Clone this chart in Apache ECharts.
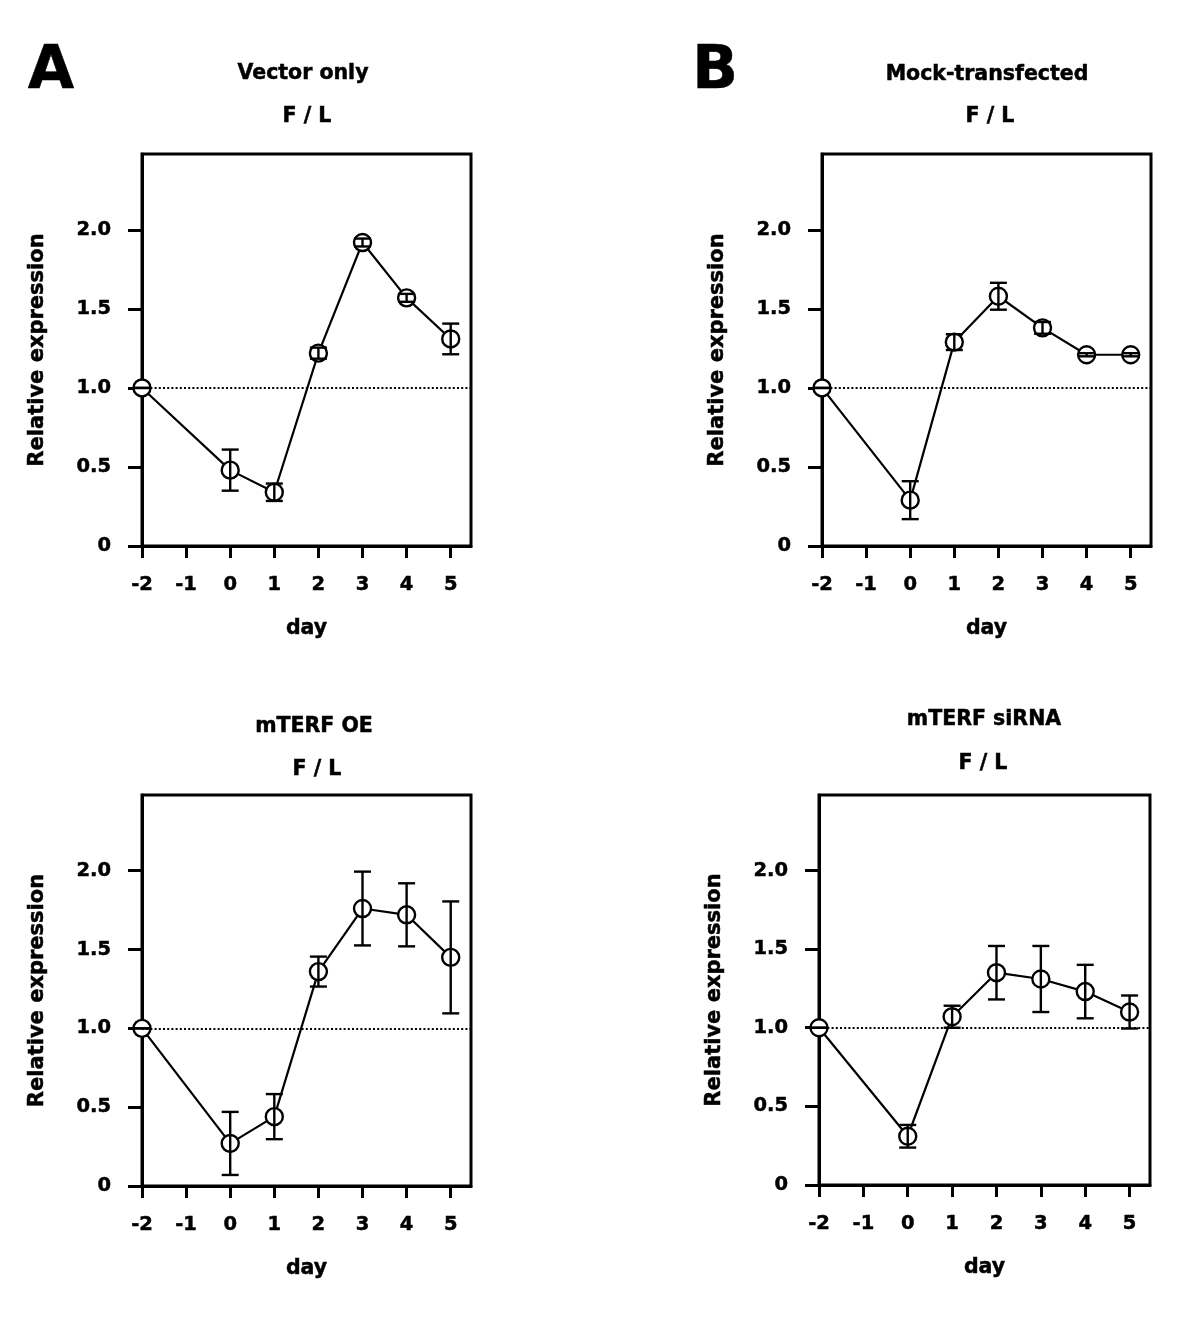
<!DOCTYPE html>
<html>
<head>
<meta charset="utf-8">
<script src="https://cdn.jsdelivr.net/npm/echarts@6/dist/echarts.min.js"></script>
<style>html,body{margin:0;padding:0;background:#fff;}#c{width:1200px;height:1318px;}</style>
</head>
<body>
<div id="c"></div>
<script>
// ---- data ----
const days = [-2, 0, 1, 2, 3, 4, 5];
const xTicks = [-2, -1, 0, 1, 2, 3, 4, 5];
const yTicks = [0, 0.5, 1.0, 1.5, 2.0];
const panelTitles = ['Vector only', 'Mock-transfected', 'mTERF OE', 'mTERF siRNA'];
const subTitle = 'F / L';
const panelLetters = ['A', 'B'];
const xName = 'day';
const yName = 'Relative expression';
const refLevel = 1.0;

const vectorMean = [1.0, 0.48, 0.34, 1.22, 1.92, 1.57, 1.31];
const vectorErr  = [0, 0.13, 0.055, 0.035, 0.025, 0.025, 0.097];
const mockMean   = [1.0, 0.29, 1.29, 1.58, 1.38, 1.21, 1.21];
const mockErr    = [0, 0.12, 0.05, 0.085, 0.037, 0.01, 0.01];
const oeMean     = [1.0, 0.27, 0.44, 1.36, 1.76, 1.72, 1.45];
const oeErr      = [0, 0.2, 0.143, 0.095, 0.234, 0.2, 0.355];
const siMean     = [1.0, 0.31, 1.07, 1.35, 1.31, 1.23, 1.10];
const siErr      = [0, 0.072, 0.07, 0.17, 0.21, 0.17, 0.105];

// ---- layout / style ----
const FONT = '"DejaVu Sans", "Liberation Sans", Arial, sans-serif';
const grids = [
  {left: 142, top: 154, width: 329, height: 392},
  {left: 822, top: 154, width: 329, height: 392},
  {left: 142, top: 795, width: 329, height: 391},
  {left: 819, top: 795, width: 331, height: 390}
];
const means = [vectorMean, mockMean, oeMean, siMean];
const errs = [vectorErr, mockErr, oeErr, siErr];

const chart = echarts.init(document.getElementById('c'), null, {renderer: 'canvas'});

const txt = (size) => ({color: '#000', fontFamily: FONT, fontWeight: 'bold', fontSize: size,
  textBorderColor: '#000', textBorderWidth: 0.5});

const xAxes = [], yAxes = [], series = [], gridOpts = [];
grids.forEach((g, i) => {
  gridOpts.push(Object.assign({show: true, borderColor: '#000', borderWidth: 3, backgroundColor: 'transparent'}, g));
  xAxes.push({
    gridIndex: i, type: 'value', min: -2, max: 5.46,
    splitLine: {show: false},
    axisLine: {show: true, onZero: false, lineStyle: {color: '#000', width: 3}},
    axisTick: {show: true, length: 12, customValues: xTicks, lineStyle: {color: '#000', width: 3}},
    axisLabel: Object.assign({customValues: xTicks, margin: 29, formatter: v => String(v)}, txt(19.5)),
    name: xName, nameLocation: 'middle', nameGap: 72,
    nameTextStyle: txt(20.5)
  });
  yAxes.push({
    gridIndex: i, type: 'value', min: 0, max: 2.48,
    splitLine: {show: false},
    axisLine: {show: true, onZero: false, lineStyle: {color: '#000', width: 3}},
    axisTick: {show: true, length: 14, customValues: yTicks, lineStyle: {color: '#000', width: 3}},
    axisLabel: Object.assign({customValues: yTicks, margin: 31,
      formatter: v => (v === 0 ? '0' : v.toFixed(1))}, txt(19.5)),
    name: yName, nameLocation: 'middle', nameGap: 94, nameRotate: 90,
    nameTextStyle: txt(21)
  });
  const lineData = days.map((d, k) => [d, means[i][k]]);
  const errData = days.map((d, k) => [d, means[i][k] - errs[i][k], means[i][k] + errs[i][k]]);
  series.push({
    type: 'line', xAxisIndex: i, yAxisIndex: i, data: lineData, z: 2, clip: false,
    symbol: 'circle', symbolSize: 17, showAllSymbol: true,
    lineStyle: {color: '#000', width: 2.2},
    itemStyle: {color: '#fff', borderColor: '#000', borderWidth: 2.4},
    emphasis: {disabled: true},
    markLine: {
      silent: true, symbol: ['none', 'none'], label: {show: false},
      lineStyle: {color: '#000', width: 2, type: [2, 2.2]},
      data: [{yAxis: refLevel}]
    }
  });
  series.push({
    type: 'custom', xAxisIndex: i, yAxisIndex: i, data: errData, z: 5, clip: false,
    renderItem: (params, api) => {
      const x = api.value(0);
      const pLo = api.coord([x, api.value(1)]);
      const pHi = api.coord([x, api.value(2)]);
      const hw = 8.5;
      const st = {stroke: '#000', lineWidth: 2.4};
      return {type: 'group', children: [
        {type: 'line', shape: {x1: pHi[0], y1: pHi[1], x2: pLo[0], y2: pLo[1]}, style: st},
        {type: 'line', shape: {x1: pHi[0] - hw, y1: pHi[1], x2: pHi[0] + hw, y2: pHi[1]}, style: st},
        {type: 'line', shape: {x1: pLo[0] - hw, y1: pLo[1], x2: pLo[0] + hw, y2: pLo[1]}, style: st}
      ]};
    }
  });
});

const titlePos = [
  {t: [303, 74], s: [307, 117]},
  {t: [987, 75], s: [990, 117]},
  {t: [314, 727], s: [317, 770]},
  {t: [984, 720], s: [983, 764]}
];
const gtxt = (s) => ({fill: '#000', font: s, textAlign: 'center', textVerticalAlign: 'middle', stroke: '#000', lineWidth: 0.5});
const graphics = [];
titlePos.forEach((p, i) => {
  graphics.push({type: 'text', x: p.t[0], y: p.t[1], style: Object.assign({text: panelTitles[i]}, gtxt('bold 20.5px ' + FONT))});
  graphics.push({type: 'text', x: p.s[0], y: p.s[1], style: Object.assign({text: subTitle}, gtxt('bold 20.5px ' + FONT))});
});
graphics.push({type: 'text', x: 51, y: 72, style: Object.assign({text: panelLetters[0]}, gtxt('bold 60px ' + FONT))});
graphics.push({type: 'text', x: 715, y: 72, style: Object.assign({text: panelLetters[1]}, gtxt('bold 60px ' + FONT))});

chart.setOption({
  animation: false,
  backgroundColor: '#fff',
  grid: gridOpts,
  xAxis: xAxes,
  yAxis: yAxes,
  series: series,
  graphic: graphics
});
</script>
</body>
</html>
